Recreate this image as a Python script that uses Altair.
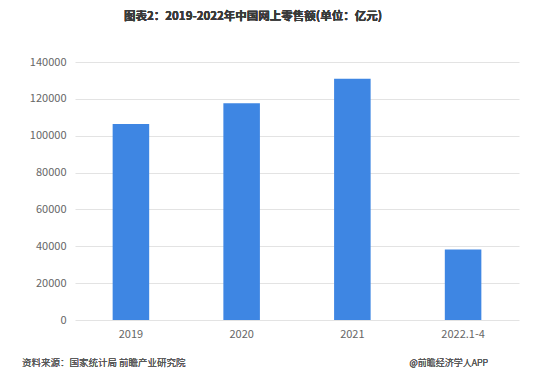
import altair as alt
import pandas as pd

categories = ["2019", "2020", "2021", "2022.1-4"]
values = [106324, 117601, 130884, 38225]
y_ticks = [0, 20000, 40000, 60000, 80000, 100000, 120000, 140000]

title_text = "图表2：2019-2022年中国网上零售额(单位：亿元)"
source_text = "资料来源：国家统计局 前瞻产业研究院"
credit_text = "@前瞻经济学人APP"

df = pd.DataFrame({"cat": categories, "val": values})
FONT = "Noto Sans CJK SC"

bars = alt.Chart(df).mark_bar(color="#3E86E3").encode(
    x=alt.X("cat:N", sort=categories, title=None,
            scale=alt.Scale(paddingInner=0.67, paddingOuter=0.34),
            axis=alt.Axis(labelAngle=0, domain=False, ticks=False, labelPadding=8, grid=False,
                          labelColor="#666666", labelFontSize=11, labelFont=FONT)),
    y=alt.Y("val:Q", title=None,
            scale=alt.Scale(domain=[0, 140000], nice=False),
            axis=alt.Axis(values=y_ticks, domain=False, ticks=False, labelPadding=9,
                          labelColor="#666666", labelFontSize=11, labelFont=FONT,
                          gridColor="#e3e3e3", format="d")),
)

title = alt.Chart(df).mark_text(font=FONT, fontSize=11.5, fontWeight="bold",
                                color="#3a3a3a", align="center", baseline="middle").encode(
    x=alt.value(178), y=alt.value(-45), text=alt.value(title_text))

src = alt.Chart(df).mark_text(font=FONT, fontSize=9.5, fontWeight=300, color="#555555",
                              align="left", baseline="middle").encode(
    x=alt.value(-53), y=alt.value(301), text=alt.value(source_text))

credit = alt.Chart(df).mark_text(font=FONT, fontSize=9, fontWeight=300, color="#555555",
                                 align="right", baseline="middle").encode(
    x=alt.value(413), y=alt.value(301), text=alt.value(credit_text))

chart = alt.layer(bars, title, src, credit).properties(
    width=444, height=258,
    autosize=alt.AutoSizeParams(type="none"),
    padding={"left": 67, "top": 54, "right": 20, "bottom": 50},
    background="white",
).configure_view(stroke=None)

chart.save("out.html", embed_options={"renderer": "svg", "actions": False})
